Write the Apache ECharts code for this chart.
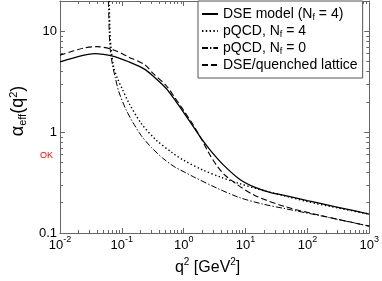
<!DOCTYPE html>
<html><head><meta charset="utf-8">
<script src="https://cdn.jsdelivr.net/npm/echarts@6/dist/echarts.min.js"></script>
<style>html,body{margin:0;padding:0;background:#fff}#c{width:382px;height:281px}#e{position:absolute;left:40px;top:150px;font:9px sans-serif;color:red;width:330px}</style>
</head><body><div id="c"></div><div id="e"></div>
<script>
const E = document.getElementById('e');
window.addEventListener('error', ev => { E.textContent += ' WE:' + ev.message; });
const origErr = console.error, origWarn = console.warn;
console.error = function () { E.textContent += ' CE:' + Array.from(arguments).join(' ').slice(0, 200); };
console.warn = function () { E.textContent += ' CW:' + Array.from(arguments).join(' ').slice(0, 200); };
// ---- data (q^2 in GeV^2, alpha_eff) ----
const seriesNames = ['DSE model (N_f = 4)', 'pQCD, N_f = 4', 'pQCD, N_f = 0', 'DSE/quenched lattice'];

const dseModel = [
  [0.01, 4.98], [0.0236, 5.77], [0.0367, 6.01], [0.0738, 5.65], [0.13, 4.98],
  [0.232, 4.22], [0.326, 3.57], [0.514, 2.74], [0.724, 2.08], [1.02, 1.54],
  [1.44, 1.13], [2.03, 0.829], [2.85, 0.635], [4.5, 0.466], [8.0, 0.342],
  [14.3, 0.283], [24.7, 0.253], [44.3, 0.235], [100, 0.210], [312, 0.180],
  [1000, 0.154]
];
const pqcdNf4 = [
  [0.0625, 20], [0.0643, 10], [0.067, 6.79], [0.0743, 4.36], [0.0876, 3.27],
  [0.1, 2.74], [0.131, 1.93], [0.206, 1.22], [0.351, 0.847], [0.647, 0.628],
  [1.0, 0.526], [2.03, 0.422], [4.0, 0.357], [8.0, 0.309], [14.5, 0.277],
  [44.3, 0.232], [100, 0.205], [312, 0.177], [1000, 0.154]
];
const pqcdNf0 = [
  [0.0608, 20], [0.0625, 10], [0.0647, 6.79], [0.0705, 4.66], [0.0782, 3.49],
  [0.0896, 2.51], [0.117, 1.67], [0.15, 1.26], [0.206, 0.925], [0.303, 0.702],
  [0.459, 0.552], [0.70, 0.456], [1.02, 0.403], [1.44, 0.361], [3.39, 0.280],
  [8.0, 0.2245], [18.8, 0.194], [44.3, 0.174], [174, 0.147], [1000, 0.117]
];
const dseLattice = [
  [0.01, 5.81], [0.0236, 6.79], [0.0394, 7.05], [0.0738, 6.54], [0.13, 5.55],
  [0.232, 4.69], [0.326, 3.78], [0.514, 2.93], [0.724, 2.19], [1.02, 1.61],
  [1.44, 1.17], [2.03, 0.81], [2.55, 0.621], [3.39, 0.471], [4.5, 0.382],
  [7.13, 0.306], [14.1, 0.236], [44.3, 0.182], [174, 0.148], [1000, 0.117]
];

const xMajorTicks = [0.01, 0.1, 1, 10, 100, 1000];
const yMajorTicks = [0.1, 1, 10];
const yTickLabels = ['0.1', '1', '10'];
const xRange = [0.01, 1000];
const yRange = [0.1, 20];

function minorTicks(lo, hi) {
  const out = [];
  for (let d = Math.floor(Math.log10(lo)); d <= Math.ceil(Math.log10(hi)); d++) {
    for (let k = 2; k <= 9; k++) {
      const v = k * Math.pow(10, d);
      if (v > lo && v < hi) out.push(+v.toPrecision(3));
    }
  }
  return out;
}
const xMinorTicks = minorTicks(xRange[0], xRange[1]);
const yMinorTicks = minorTicks(yRange[0], yRange[1]);

const AX = '#666';
const FONT = 'Liberation Sans, Arial, Helvetica, sans-serif';

function xAxisDef(pos, ticks, len, showLine, showLabel) {
  return {
    type: 'log', logBase: 10, min: xRange[0], max: xRange[1], position: pos,
    axisLine: { show: showLine, onZero: false, lineStyle: { color: AX, width: 1 } },
    axisTick: { show: true, inside: true, length: len, customValues: ticks, lineStyle: { color: AX, width: 1 } },
    splitLine: { show: false },
    axisLabel: showLabel ? {
      show: true, customValues: xMajorTicks, margin: 2,
      formatter: v => '{b|10}{s|' + Math.round(Math.log10(v)) + '}',
      rich: {
        b: { fontSize: 13, fontFamily: FONT, color: '#000', lineHeight: 17, verticalAlign: 'bottom' },
        s: { fontSize: 9, fontFamily: FONT, color: '#000', lineHeight: 11, verticalAlign: 'top' }
      }
    } : { show: false }
  };
}
function yAxisDef(pos, ticks, len, showLine, showLabel) {
  return {
    type: 'log', logBase: 10, min: yRange[0], max: yRange[1], position: pos,
    axisLine: { show: showLine, onZero: false, lineStyle: { color: AX, width: 1 } },
    axisTick: { show: true, inside: true, length: len, customValues: ticks, lineStyle: { color: AX, width: 1 } },
    splitLine: { show: false },
    axisLabel: showLabel ? {
      show: true, customValues: yMajorTicks, margin: 3, color: '#000', fontSize: 13, fontFamily: FONT,
      formatter: v => {
        const i = yMajorTicks.findIndex(t => Math.abs(t - v) / t < 1e-6);
        return i >= 0 ? yTickLabels[i] : '';
      }
    } : { show: false }
  };
}

const xAxes = [
  xAxisDef('bottom', xMajorTicks, 5, true, true),
  xAxisDef('bottom', xMinorTicks, 3, false, false),
  xAxisDef('top', xMajorTicks, 5, true, false),
  xAxisDef('top', xMinorTicks, 3, false, false)
];
Object.assign(xAxes[0], {
  name: '{a|q}{s|2}{a| [GeV}{s|2}{a|]}{p|\u00a0}', nameLocation: 'middle', nameGap: 24,
  nameTextStyle: { rich: {
    a: { fontSize: 16, fontFamily: FONT, color: '#000', lineHeight: 19, verticalAlign: 'bottom' },
    s: { fontSize: 10, fontFamily: FONT, color: '#000', lineHeight: 12, verticalAlign: 'top' },
    p: { fontSize: 10, width: 14, lineHeight: 19 }
  } }
});
const yAxes = [
  yAxisDef('left', yMajorTicks, 5, true, true),
  yAxisDef('left', yMinorTicks, 3, false, false),
  yAxisDef('right', yMajorTicks, 5, true, false),
  yAxisDef('right', yMinorTicks, 3, false, false)
];
Object.assign(yAxes[0], {
  name: '{p|\u00a0}{a|α}{d|eff}{a|(q}{s|2}{a|)}', nameLocation: 'middle', nameGap: 11, nameRotate: 90,
  nameTextStyle: { rich: {
    p: { fontSize: 10, width: 12, lineHeight: 20 },
    a: { fontSize: 18, fontFamily: FONT, color: '#000', lineHeight: 20 },
    d: { fontSize: 11, fontFamily: FONT, color: '#000', lineHeight: 10, verticalAlign: 'bottom' },
    s: { fontSize: 11, fontFamily: FONT, color: '#000', lineHeight: 10, verticalAlign: 'top' }
  } }
});

function mkSeries(name, data, dash, width) {
  return {
    name, type: 'line', data, xAxisIndex: 0, yAxisIndex: 0,
    symbol: 'none', smooth: 0.3,
    lineStyle: { color: '#000', width, type: dash }, itemStyle: { color: '#000' }
  };
}

function legendLabel(name) {
  const m = name.match(/^(.*)N_f(.*)$/);
  if (!m) return '{t|' + name + '}';
  return '{t|' + m[1] + 'N}{f|f}{t|' + m[2] + '}';
}

try {
const chart = echarts.init(document.getElementById('c'));
chart.setOption({
  animation: false,
  grid: { left: 35, right: 11, top: 1, bottom: 40.5 },
  xAxis: xAxes,
  yAxis: yAxes,
  legend: {
    orient: 'vertical', left: 198, top: 1, padding: [5, 5, 5, 3],
    backgroundColor: '#fff', borderColor: '#555', borderWidth: 1,
    itemWidth: 16, itemHeight: 14, itemGap: 1,
    itemStyle: { opacity: 0 },
    data: seriesNames, selectedMode: false,
    formatter: legendLabel,
    textStyle: { color: '#000', fontSize: 14, fontFamily: FONT, lineHeight: 16,
      rich: {
        t: { fontSize: 14, fontFamily: FONT, color: '#000', lineHeight: 16 },
        f: { fontSize: 9, fontFamily: FONT, color: '#000', lineHeight: 8, verticalAlign: 'bottom' }
      } }
  },
  series: [
    mkSeries(seriesNames[0], dseModel, 'solid', 1.3),
    mkSeries(seriesNames[1], pqcdNf4, [1.4, 2.4], 1.4),
    mkSeries(seriesNames[2], pqcdNf0, [6, 2, 1.4, 2], 1),
    mkSeries(seriesNames[3], dseLattice, [6, 3], 1.1)
  ]
});
E.textContent += ' OK';
} catch (err) { E.textContent += ' EX:' + err.message + ' | ' + (err.stack || '').slice(0, 400); }
</script></body></html>
